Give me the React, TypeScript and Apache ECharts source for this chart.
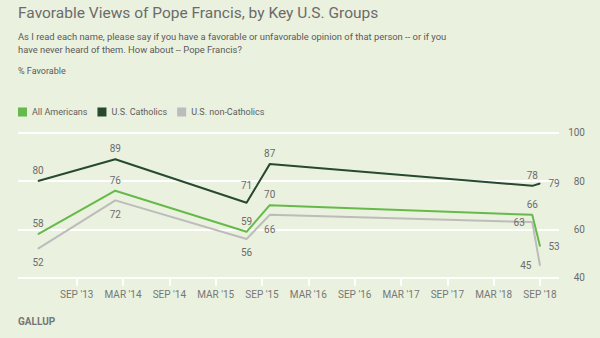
import React, { useEffect, useRef } from "react";
import * as echarts from "echarts";

// Survey fieldwork months and % favorable of Pope Francis
const surveyDates = ["2013-04", "2014-02", "2015-07", "2015-10", "2018-08", "2018-09"];
const allAmericans = [58, 76, 59, 70, 66, 53];
const usCatholics = [80, 89, 71, 87, 78, 79];
const usNonCatholics = [52, 72, 56, 66, 63, 45];

const tickDates = [
  "2013-09", "2014-03", "2014-09", "2015-03", "2015-09", "2016-03",
  "2016-09", "2017-03", "2017-09", "2018-03", "2018-09",
];
const tickLabels = [
  "SEP '13", "MAR '14", "SEP '14", "MAR '15", "SEP '15", "MAR '16",
  "SEP '16", "MAR '17", "SEP '17", "MAR '18", "SEP '18",
];

const yTicks = [40, 60, 80, 100];

// month index counted from January 2013
const toMonth = (d: string) => {
  const [y, m] = d.split("-").map(Number);
  return (y - 2013) * 12 + (m - 1);
};

const FONT = "Roboto, 'Noto Sans', sans-serif";
const BG = "#eaf1de";
const GREEN = "#66b94b";
const DARK = "#27492f";
const GREY = "#bcbcbc";
const LABEL = "#6c6c6c";

type Pos = [string, number];

const buildSeries = (
  name: string,
  values: number[],
  color: string,
  positions: Pos[]
) => ({
  name,
  type: "line",
  data: values.map((v, i) => ({
    value: [toMonth(surveyDates[i]), v],
    label: { position: positions[i][0], distance: positions[i][1] },
  })),
  symbol: "circle",
  symbolSize: 1,
  itemStyle: { color },
  lineStyle: { color, width: 2 },
  label: {
    show: true,
    color: LABEL,
    fontSize: 10,
    fontFamily: FONT,
  },
  emphasis: { disabled: true },
  z: name === "U.S. non-Catholics" ? 2 : 3,
});

export default function App() {
  const ref = useRef<HTMLDivElement>(null);

  useEffect(() => {
    if (!ref.current) return;
    const chart = echarts.init(ref.current, null, { renderer: "svg" });
    const tickMonths = tickDates.map(toMonth);

    chart.setOption({
      animation: false,
      backgroundColor: BG,
      textStyle: { fontFamily: FONT },
      grid: { left: 18, right: 41, top: 132.7, bottom: 60.3, containLabel: false },
      legend: {
        left: 18,
        top: 107.5,
        padding: 0,
        icon: "rect",
        itemWidth: 9,
        itemHeight: 9,
        itemGap: 10,
        textStyle: { color: "#5e5e5e", fontSize: 9, fontFamily: FONT },
        data: ["All Americans", "U.S. Catholics", "U.S. non-Catholics"],
      },
      xAxis: {
        type: "value",
        min: 0.4,
        max: 70.46,
        axisLine: { show: false },
        splitLine: { show: false },
        axisTick: {
          show: true,
          customValues: tickMonths,
          length: 8,
          lineStyle: { color: "#ffffff", width: 2 },
        },
        axisLabel: {
          customValues: tickMonths,
          margin: 12,
          color: "#777777",
          fontSize: 10,
          fontFamily: FONT,
          formatter: (v: number) => tickLabels[tickMonths.indexOf(Math.round(v))] ?? "",
        },
      },
      yAxis: {
        type: "value",
        position: "right",
        min: 40,
        max: 100,
        interval: 20,
        axisLine: { show: false },
        axisTick: { show: false },
        splitLine: { lineStyle: { color: "#ffffff", width: 2 } },
        axisLabel: {
          align: "right",
          margin: 26,
          color: "#6c6c6c",
          fontSize: 10,
          fontFamily: FONT,
          formatter: (v: number) => (yTicks.includes(v) ? String(v) : ""),
        },
      },
      series: [
        buildSeries("U.S. non-Catholics", usNonCatholics, GREY, [
          ["bottom", 8], ["bottom", 9], ["bottom", 8], ["bottom", 9], ["left", 7], ["left", 8],
        ]),
        buildSeries("All Americans", allAmericans, GREEN, [
          ["top", 5], ["top", 5], ["top", 5], ["top", 5], ["top", 5], ["right", 8],
        ]),
        buildSeries("U.S. Catholics", usCatholics, DARK, [
          ["top", 5], ["top", 5], ["top", 12], ["top", 5], ["top", 5], ["right", 8],
        ]),
      ],
      graphic: [
        {
          type: "text",
          left: 18,
          top: 5,
          style: {
            text: "Favorable Views of Pope Francis, by Key U.S. Groups",
            fill: "#6b6b6b",
            font: `15.5px ${FONT}`,
          },
        },
        {
          type: "text",
          left: 18,
          top: 30,
          style: {
            text:
              "As I read each name, please say if you have a favorable or unfavorable opinion of that person -- or if you\nhave never heard of them. How about -- Pope Francis?",
            fill: "#5a5a5a",
            font: `9.4px ${FONT}`,
            lineHeight: 13,
          },
        },
        {
          type: "text",
          left: 18,
          top: 66,
          style: { text: "% Favorable", fill: "#5a5a5a", font: `9px ${FONT}` },
        },
        {
          type: "text",
          left: 18,
          top: 316,
          style: { text: "GALLUP", fill: "#767676", font: `bold 10px ${FONT}` },
        },
      ],
    });

    return () => chart.dispose();
  }, []);

  return <div ref={ref} style={{ width: 600, height: 338, position: "absolute", left: 0, top: 0 }} />;
}
